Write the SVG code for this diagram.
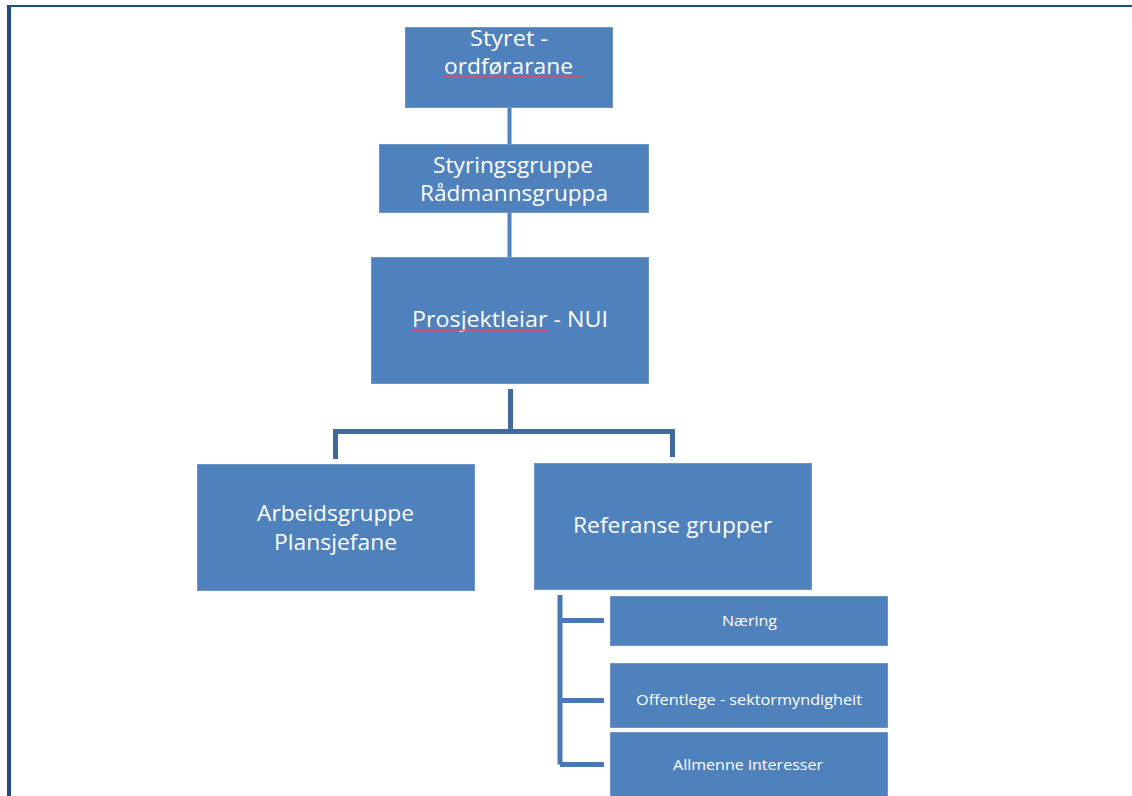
<svg xmlns="http://www.w3.org/2000/svg" width="1132" height="796" viewBox="0 0 1132 796">
<style>
.box{fill:#4f81bd;stroke:#6f95c6;stroke-width:1}
.t{fill:#ffffff;font-family:"Open Sans","Liberation Sans",Arial,sans-serif;font-size:22px}
.s{fill:#ffffff;font-family:"Open Sans","Liberation Sans",Arial,sans-serif;font-size:15px}
.c1{fill:none;stroke:#4f81bd;stroke-width:4}
.c2{fill:none;stroke:#41699b;stroke-width:5}
.c3{fill:none;stroke:#4a78b2;stroke-width:5}
.sp{stroke:#c9566b;stroke-width:1.2;fill:none}
</style>
<rect width="1132" height="796" fill="#ffffff"/>
<g id="frame">
<line x1="7" y1="6" x2="1132" y2="6" stroke="#234b80" stroke-width="2"/>
<line x1="9" y1="5" x2="9" y2="796" stroke="#234b80" stroke-width="4"/>
</g>
<g id="connectors">
<line class="c1" x1="509.5" y1="107" x2="509.5" y2="144"/>
<line class="c1" x1="509.5" y1="212" x2="509.5" y2="258"/>
<path class="c2" d="M510.5 389 V431.5 M335.5 459 V431.5 H672.5 V457"/>
<path class="c3" d="M560 595 V764.5 M560 620.5 H604 M560 700.5 H604 M560 764.5 H604"/>
</g>
<g id="n-styret">
<rect class="box" x="405.5" y="27.5" width="207" height="80"/>
<text class="t" x="470" y="46" textLength="78" lengthAdjust="spacingAndGlyphs">Styret -</text>
<text class="t" x="444" y="74" textLength="129" lengthAdjust="spacingAndGlyphs">ordførarane</text>
<line class="sp" x1="444" y1="76.5" x2="581" y2="76.5"/>
</g>
<g id="n-styringsgruppe">
<rect class="box" x="379.5" y="144.5" width="269" height="68"/>
<text class="t" x="433" y="173" textLength="160" lengthAdjust="spacingAndGlyphs">Styringsgruppe</text>
<text class="t" x="420" y="201" textLength="188" lengthAdjust="spacingAndGlyphs">Rådmannsgruppa</text>
</g>
<g id="n-prosjektleiar">
<rect class="box" x="371.5" y="257.5" width="277" height="126"/>
<text class="t" x="412" y="327" textLength="196" lengthAdjust="spacingAndGlyphs">Prosjektleiar - NUI</text>
<line class="sp" x1="412" y1="330.5" x2="547" y2="330.5"/>
</g>
<g id="n-arbeidsgruppe">
<rect class="box" x="197.5" y="464.5" width="277" height="126"/>
<text class="t" x="257" y="521" textLength="157" lengthAdjust="spacingAndGlyphs">Arbeidsgruppe</text>
<text class="t" x="274" y="550" textLength="123" lengthAdjust="spacingAndGlyphs">Plansjefane</text>
</g>
<g id="n-referanse">
<rect class="box" x="534.5" y="463.5" width="277" height="126"/>
<text class="t" x="573" y="533" textLength="199" lengthAdjust="spacingAndGlyphs">Referanse grupper</text>
</g>
<g id="n-naering">
<rect class="box" x="610.5" y="596.5" width="277" height="49"/>
<text class="s" x="722" y="626" textLength="55" lengthAdjust="spacingAndGlyphs">Næring</text>
</g>
<g id="n-offentlege">
<rect class="box" x="610.5" y="663.5" width="277" height="64"/>
<text class="s" x="636" y="705" textLength="226" lengthAdjust="spacingAndGlyphs">Offentlege - sektormyndigheit</text>
</g>
<g id="n-allmenne">
<rect class="box" x="610.5" y="732.5" width="277" height="64"/>
<text class="s" x="673" y="770" textLength="150" lengthAdjust="spacingAndGlyphs">Allmenne interesser</text>
</g>
</svg>
